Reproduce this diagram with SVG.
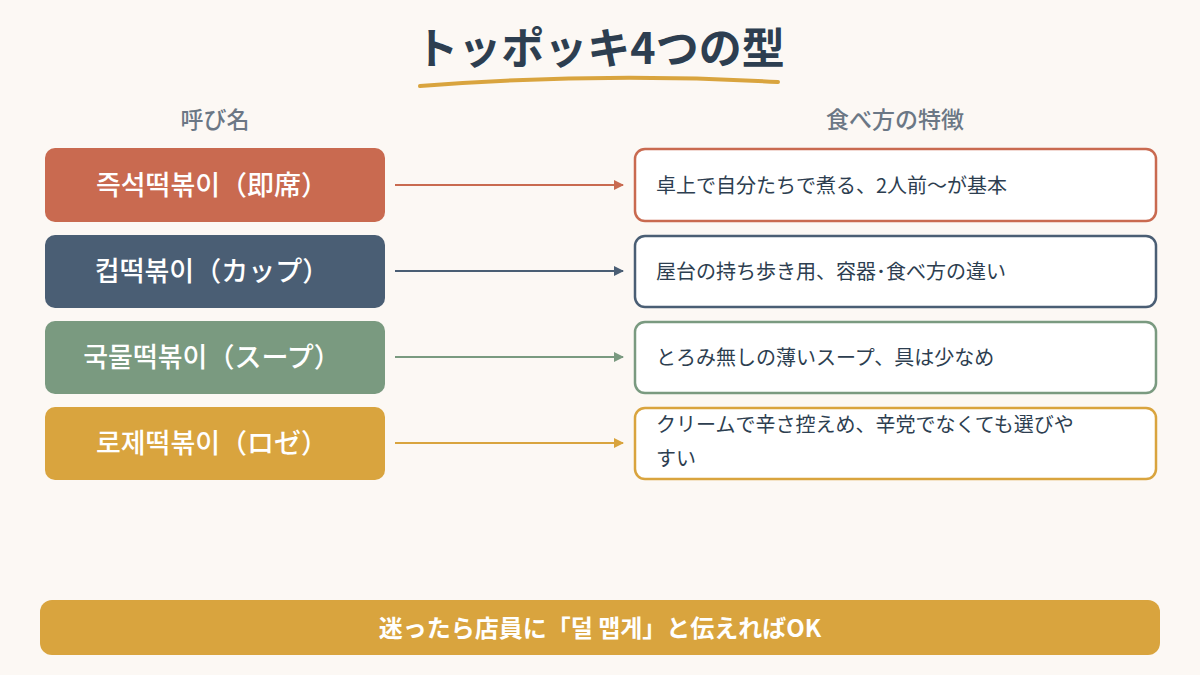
<svg xmlns="http://www.w3.org/2000/svg" width="1200" height="675" viewBox="0 0 1200 675">
<defs>
<style>
text{font-family:"Noto Sans CJK JP","Noto Sans CJK KR",sans-serif}
.lt{font-size:27px;font-weight:500;fill:#fff;text-anchor:middle}
.rt{font-size:20px;fill:#2d3e50}
.hd{font-size:23px;font-weight:500;fill:#6b7785;text-anchor:middle}
.rb{fill:#fff;stroke-width:2.5}
</style>
<marker id="a1" markerWidth="10" markerHeight="10" refX="9" refY="5" orient="auto" markerUnits="userSpaceOnUse"><path d="M0,0L10,5L0,10z" fill="#c96a50"/></marker>
<marker id="a2" markerWidth="10" markerHeight="10" refX="9" refY="5" orient="auto" markerUnits="userSpaceOnUse"><path d="M0,0L10,5L0,10z" fill="#4a5e74"/></marker>
<marker id="a3" markerWidth="10" markerHeight="10" refX="9" refY="5" orient="auto" markerUnits="userSpaceOnUse"><path d="M0,0L10,5L0,10z" fill="#7a9a80"/></marker>
<marker id="a4" markerWidth="10" markerHeight="10" refX="9" refY="5" orient="auto" markerUnits="userSpaceOnUse"><path d="M0,0L10,5L0,10z" fill="#d9a43e"/></marker>
</defs>
<rect width="1200" height="675" fill="#fcf8f4"/>
<text x="600" y="64" text-anchor="middle" font-size="43" font-weight="bold" fill="#2d3e50">トッポッキ4つの型</text>
<path d="M420,86 Q600,72 778,82" stroke="#d9a43e" stroke-width="4" fill="none" stroke-linecap="round"/>
<text class="hd" x="215" y="128">呼び名</text>
<text class="hd" x="895" y="128">食べ方の特徴</text>
<g id="n1"><rect x="45" y="148" width="340" height="74" rx="10" fill="#c96a50"/><text class="lt" x="212" y="195">즉석떡볶이（即席）</text></g>
<g id="n2"><rect x="45" y="235" width="340" height="73" rx="10" fill="#4a5e74"/><text class="lt" x="212" y="281">컵떡볶이（カップ）</text></g>
<g id="n3"><rect x="45" y="321" width="340" height="73" rx="10" fill="#7a9a80"/><text class="lt" x="212" y="367">국물떡볶이（スープ）</text></g>
<g id="n4"><rect x="45" y="407" width="340" height="73" rx="10" fill="#d9a43e"/><text class="lt" x="212" y="453">로제떡볶이（ロゼ）</text></g>
<g id="d1"><rect class="rb" x="635" y="149" width="521" height="72" rx="10" stroke="#c96a50"/><text class="rt" x="656" y="193">卓上で自分たちで煮る、2人前〜が基本</text></g>
<g id="d2"><rect class="rb" x="635" y="236" width="521" height="71" rx="10" stroke="#4a5e74"/><text class="rt" x="656" y="279">屋台の持ち歩き用、容器･食べ方の違い</text></g>
<g id="d3"><rect class="rb" x="635" y="322" width="521" height="71" rx="10" stroke="#7a9a80"/><text class="rt" x="656" y="365">とろみ無しの薄いスープ、具は少なめ</text></g>
<g id="d4"><rect class="rb" x="635" y="408" width="521" height="71" rx="10" stroke="#d9a43e"/><text class="rt" x="656" y="432">クリームで辛さ控えめ、辛党でなくても選びや</text><text class="rt" x="656" y="466">すい</text></g>
<g id="connectors" stroke-width="2">
<line x1="395" y1="185" x2="623" y2="185" stroke="#c96a50" marker-end="url(#a1)"/>
<line x1="395" y1="271" x2="623" y2="271" stroke="#4a5e74" marker-end="url(#a2)"/>
<line x1="395" y1="357" x2="623" y2="357" stroke="#7a9a80" marker-end="url(#a3)"/>
<line x1="395" y1="443" x2="623" y2="443" stroke="#d9a43e" marker-end="url(#a4)"/>
</g>
<g id="footer"><rect x="40" y="600" width="1120" height="55" rx="12" fill="#d9a43e"/><text x="600" y="637" text-anchor="middle" font-size="24" font-weight="bold" fill="#fff">迷ったら店員に「덜 맵게」と伝えればOK</text></g>
</svg>
